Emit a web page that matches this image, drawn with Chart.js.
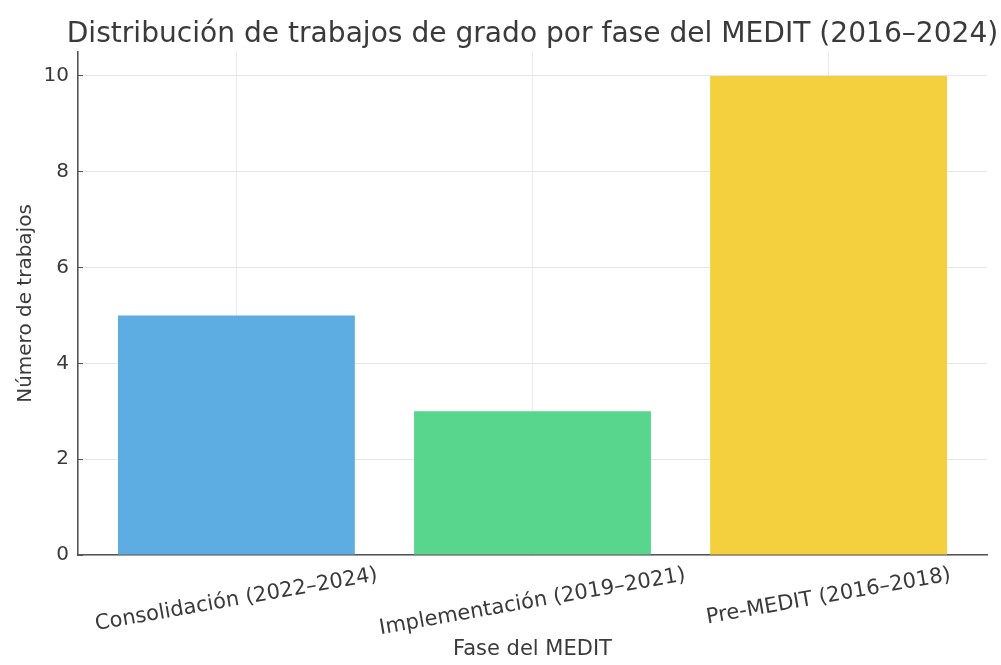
<!DOCTYPE html>
<html lang="es">
<head>
	<meta charset="UTF-8">
	<title>Trabajos de grado por fase del MEDIT</title>
	<style>
		body {
			margin: 0;
			background-color: white;
		}

		.wrap {
			width: 1001px;
			height: 665px;
		}
	</style>
	<script src="https://cdn.jsdelivr.net/npm/chart.js"></script>
</head>
<body>
<div class="wrap">
	<canvas id="chart"></canvas>
</div>
<script>
	// datos
	const titulo = 'Distribución de trabajos de grado por fase del MEDIT (2016–2024)';
	const fases = ['Consolidación (2022–2024)', 'Implementación (2019–2021)', 'Pre-MEDIT (2016–2018)'];
	const trabajos = [5, 3, 10];
	const colores = ['#5DADE2', '#58D68D', '#F4D03F'];
	const yTicks = [0, 2, 4, 6, 8, 10];

	const textColor = '#3a3a3a';
	const family = "'DejaVu Sans', sans-serif";
	Chart.defaults.font.family = family;
	Chart.defaults.color = textColor;

	// título centrado sobre el área del gráfico y etiquetas del eje x giradas 10°
	const extraText = {
		id: 'extraText',
		afterDraw(chart) {
			const ctx = chart.ctx;
			const area = chart.chartArea;
			const xs = chart.scales.x;

			ctx.save();
			ctx.fillStyle = textColor;
			ctx.font = '28.1px ' + family;
			ctx.textAlign = 'center';
			ctx.textBaseline = 'alphabetic';
			ctx.fillText(titulo, (area.left + area.right) / 2, 42);

			const ang = 10 * Math.PI / 180;
			const size = 21;
			const top = area.bottom + 8;
			ctx.font = size + 'px ' + family;
			ctx.textBaseline = 'middle';
			fases.forEach((label, i) => {
				const w = ctx.measureText(label).width;
				const h = size * 1.16;
				const boxH = w * Math.sin(ang) + h * Math.cos(ang);
				ctx.save();
				ctx.translate(xs.getPixelForValue(i), top + boxH / 2);
				ctx.rotate(-ang);
				ctx.fillText(label, 0, 0);
				ctx.restore();
			});
			ctx.restore();
		}
	};

	new Chart(document.getElementById('chart'), {
		type: 'bar',
		data: {
			datasets: [{
				data: trabajos.map((v, i) => ({ x: i, y: v })),
				backgroundColor: colores,
				borderWidth: 0,
				barPercentage: 0.8,
				categoryPercentage: 1.0
			}]
		},
		options: {
			responsive: true,
			maintainAspectRatio: false,
			animation: false,
			layout: {
				padding: { left: 0, right: 14, top: 52, bottom: 0 }
			},
			plugins: {
				legend: { display: false },
				tooltip: { enabled: false },
				title: { display: false }
			},
			scales: {
				x: {
					type: 'linear',
					offset: false,
					z: 1,
					min: -0.535,
					max: 2.535,
					afterBuildTicks: s => { s.ticks = fases.map((_, i) => ({ value: i })); },
					afterFit: s => { s.height = 110; },
					ticks: { display: false },
					grid: {
						offset: false,
						color: 'rgba(0,0,0,0.08)',
						tickColor: '#555',
						tickLength: -5
					},
					border: { color: '#555', width: 1.6 },
					title: {
						display: true,
						text: 'Fase del MEDIT',
						color: textColor,
						font: { size: 21 },
						padding: { top: 0, bottom: 3 }
					}
				},
				y: {
					min: 0,
					max: 10.5,
					afterBuildTicks: s => { s.ticks = yTicks.map(v => ({ value: v })); },
					afterFit: s => { s.width = 78; },
					ticks: {
						stepSize: 2,
						includeBounds: false,
						padding: 14,
						color: textColor,
						font: { size: 20 }
					},
					grid: {
						color: '#e6e6e6',
						tickColor: '#555',
						tickLength: -5
					},
					border: { color: '#555', width: 1.6 },
					title: {
						display: true,
						text: 'Número de trabajos',
						color: textColor,
						font: { size: 20 },
						padding: { top: 14, bottom: 0 }
					}
				}
			}
		},
		plugins: [extraText]
	});
</script>
</body>
</html>
